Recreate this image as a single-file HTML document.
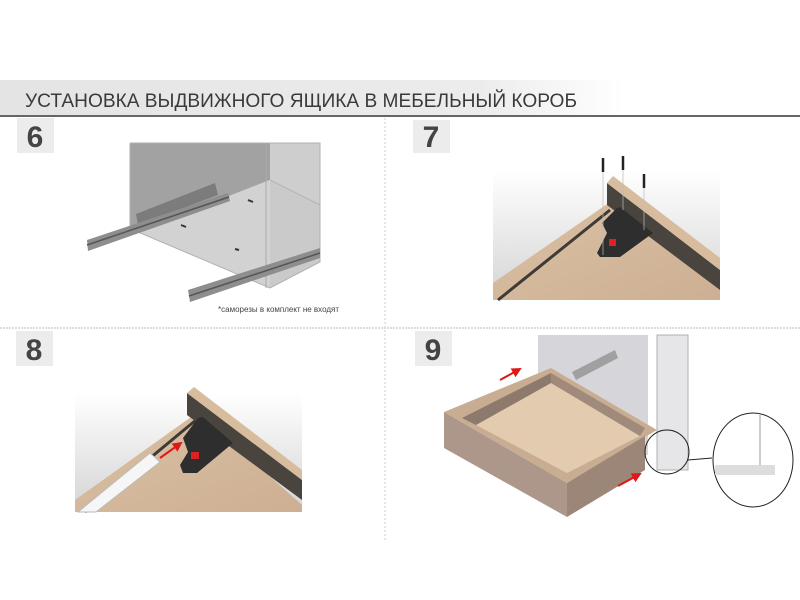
<!DOCTYPE html>
<html><head><meta charset="utf-8"><style>
html,body{margin:0;padding:0;background:#fff;}
svg{display:block;}
</style></head><body>
<svg width="800" height="600" viewBox="0 0 800 600" xmlns="http://www.w3.org/2000/svg">
<defs>
<linearGradient id="hdr" x1="0" x2="1" y1="0" y2="0">
<stop offset="0" stop-color="#e4e4e4"/><stop offset="0.6" stop-color="#ececec"/><stop offset="0.78" stop-color="#ffffff"/>
</linearGradient>
<linearGradient id="bg7" x1="0" x2="0" y1="0" y2="1">
<stop offset="0" stop-color="#ffffff"/><stop offset="1" stop-color="#d4d4d4"/>
</linearGradient>
<linearGradient id="wood" x1="0" x2="1" y1="0" y2="1">
<stop offset="0" stop-color="#dbc0a4"/><stop offset="1" stop-color="#cdb094"/>
</linearGradient>
<marker id="ah" viewBox="0 0 10 10" refX="8" refY="5" markerWidth="5" markerHeight="5" orient="auto"><path d="M0,0 L10,5 L0,10 z" fill="#e01818"/></marker>
</defs>
<rect x="0" y="80" width="800" height="35" fill="url(#hdr)"/>
<rect x="0" y="115" width="800" height="2" fill="#666"/>
<text x="25" y="107" font-family="Liberation Sans, sans-serif" font-size="19" fill="#3a3a3a" textLength="552" lengthAdjust="spacingAndGlyphs">УСТАНОВКА ВЫДВИЖНОГО ЯЩИКА В МЕБЕЛЬНЫЙ КОРОБ</text>
<line x1="385" y1="118" x2="385" y2="540" stroke="#ccc" stroke-dasharray="2,2"/>
<line x1="0" y1="328" x2="800" y2="328" stroke="#ddd" stroke-width="2" stroke-dasharray="2,1"/>
<g font-family="Liberation Sans, sans-serif" font-weight="bold" font-size="30" fill="#444" text-anchor="middle">
<rect x="17" y="118" width="37" height="35" fill="#ececec"/><text x="35" y="147">6</text>
<rect x="413" y="120" width="37" height="33" fill="#ececec"/><text x="431" y="147">7</text>
<rect x="16" y="331" width="37" height="35" fill="#ececec"/><text x="34" y="360">8</text>
<rect x="415" y="331" width="37" height="35" fill="#ececec"/><text x="433" y="360">9</text>
</g>
<!-- Panel 6 -->
<polygon points="130,143 270,143 270,180 138,232 130,232" fill="#a2a2a2"/>
<polygon points="138,232 270,180 320,205 320,262 270,288" fill="#d2d2d2"/>
<polygon points="270,143 320,143 320,262 270,288" fill="#c9c9c9" opacity="0.9"/>
<polyline points="130,143 320,143 320,262 270,288 138,232 130,232 130,143" fill="none" stroke="#b0b0b0"/>
<line x1="266" y1="143" x2="266" y2="288" stroke="#aaa"/>
<line x1="270" y1="180" x2="320" y2="205" stroke="#b5b5b5"/>
<polygon points="136,214 215,183 218,195 138,225" fill="#7c7c7c"/>
<polygon points="87,240 228,193 230,201 88,251" fill="#8e8e8e"/>
<line x1="87" y1="245" x2="229" y2="197" stroke="#555" stroke-width="1.5"/>
<polygon points="188,290 320,248 320,258 190,302" fill="#8e8e8e"/>
<line x1="189" y1="296" x2="320" y2="253" stroke="#555" stroke-width="1.5"/>
<g stroke="#333" stroke-width="2"><line x1="248" y1="200" x2="253" y2="202"/><line x1="181" y1="225" x2="186" y2="227"/><line x1="235" y1="249" x2="239" y2="250"/></g>
<text x="218" y="312" font-family="Liberation Sans, sans-serif" font-size="8" fill="#444">*саморезы в комплект не входят</text>
<!-- Panel 7 -->
<rect x="493" y="170" width="227" height="130" fill="url(#bg7)"/>
<polygon points="493,283 613,200 720,290 720,300 493,300" fill="url(#wood)"/>
<line x1="498" y1="300" x2="610" y2="210" stroke="#3e3a36" stroke-width="3"/>
<polygon points="607,183 720,270 720,290 607,205" fill="#4a443e"/>
<polygon points="607,183 613,176 720,258 720,270" fill="#d8bc9e"/>
<polygon points="620,207 653,233 620,257 600,257 597,253 607,233 602,223 617,208" fill="#2e2e2e"/>
<rect x="609" y="239" width="7" height="7" fill="#d22"/>
<g stroke="#bbb" stroke-width="0.7"><line x1="603" y1="170" x2="603" y2="255"/><line x1="623" y1="168" x2="623" y2="210"/><line x1="644" y1="187" x2="644" y2="230"/></g>
<g stroke="#222" stroke-width="2.5"><line x1="603" y1="158" x2="603" y2="172"/><line x1="623" y1="156" x2="623" y2="170"/><line x1="644" y1="174" x2="644" y2="188"/></g>
<!-- Panel 8 -->
<rect x="75" y="393" width="227" height="119" fill="url(#bg7)"/>
<polygon points="75,500 198,412 302,505 302,512 75,512" fill="url(#wood)"/>
<line x1="85" y1="512" x2="196" y2="420" stroke="#3e3a36" stroke-width="3"/>
<polygon points="187,393 302,480 302,500 187,415" fill="#4a443e"/>
<polygon points="187,393 194,387 302,470 302,480" fill="#d8bc9e"/>
<polygon points="78,512 96,512 160,462 150,453" fill="#f6f6f6" stroke="#bbb"/>
<polygon points="203,417 233,443 197,473 183,473 180,465 188,452 183,438 198,418" fill="#2e2e2e"/>
<rect x="191" y="452" width="8" height="7" fill="#d22"/>
<line x1="160" y1="458" x2="181" y2="443" stroke="#e01818" stroke-width="2" marker-end="url(#ah)"/>
<!-- Panel 9 -->
<rect x="538" y="335" width="110" height="120" fill="#d6d6da"/>
<rect x="657" y="335" width="31" height="135" fill="#e6e6e8" stroke="#b0b0b0"/>
<polygon points="572,372 615,350 618,358 576,380" fill="#a0a0a0"/>
<polygon points="444,412 551,368 657,430 567,483" fill="#c9ad92"/>
<polygon points="476,425 551,383 640,436 567,473" fill="#e3cbb0"/>
<polygon points="462,418 551,373 551,383 476,425" fill="#8d7a6c"/>
<polygon points="551,373 645,428 640,436 551,383" fill="#9f8a7b"/>
<polygon points="444,412 567,483 567,517 444,448" fill="#ad978a"/>
<polygon points="567,483 645,436 645,470 567,517" fill="#9c8677"/>
<line x1="500" y1="380" x2="520" y2="369" stroke="#e01818" stroke-width="2" marker-end="url(#ah)"/>
<line x1="618" y1="486" x2="640" y2="474" stroke="#e01818" stroke-width="2" marker-end="url(#ah)"/>
<circle cx="667" cy="452" r="22" fill="none" stroke="#222"/>
<line x1="688" y1="460" x2="712" y2="458" stroke="#222"/>
<ellipse cx="753" cy="460" rx="40" ry="47" fill="#fff" stroke="#222"/>
<line x1="760" y1="415" x2="760" y2="465" stroke="#999"/>
<rect x="715" y="465" width="60" height="10" fill="#ddd"/>
</svg>
</body></html>
